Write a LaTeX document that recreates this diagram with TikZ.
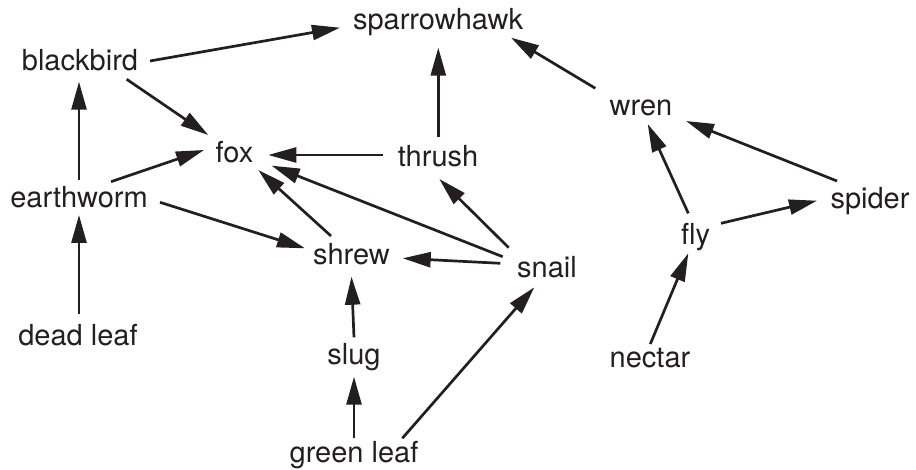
\documentclass[tikz,border=0pt]{standalone}
\usepackage{fontspec}
\setmainfont{TeX Gyre Heros}
\usetikzlibrary{arrows.meta}
\definecolor{ink}{HTML}{231F20}
\begin{document}
\begin{tikzpicture}[x=1pt,y=-1pt,
  lbl/.style={anchor=base,inner sep=0pt,text=ink,font=\fontsize{29}{32}\selectfont},
  feeds/.style={draw=ink,line width=2.7pt,
    -{Triangle[length=28pt,width=15pt]},fill=ink}]
\useasboundingbox (0,0) rectangle (916,470);

% organisms (placed by their text baseline)
\node[lbl] (sparrowhawk) at (438,30)   {sparrowhawk};
\node[lbl] (blackbird)   at (80,71)    {blackbird};
\node[lbl] (wren)        at (641,116)  {wren};
\node[lbl] (fox)         at (234.5,163){fox};
\node[lbl] (thrush)      at (438,167)  {thrush};
\node[lbl] (earthworm)   at (79,208)   {earthworm};
\node[lbl] (spider)      at (870,209)  {spider};
\node[lbl] (fly)         at (695.5,245){fly};
\node[lbl] (shrew)       at (351.5,265){shrew};
\node[lbl] (snail)       at (547,278)  {snail};
\node[lbl] (deadleaf)    at (78,345)   {dead leaf};
\node[lbl] (slug)        at (354,365)  {slug};
\node[lbl] (nectar)      at (650,367)  {nectar};
\node[lbl] (greenleaf)   at (354,462)  {green leaf};

% who is eaten by whom
\draw[feeds] ([shift={(70,-10)}]blackbird.base) -- ([shift={(-98,-2.3)}]sparrowhawk.base);
\draw[feeds] ([shift={(0.3,-30.3)}]thrush.base) -- ([shift={(0.3,17.7)}]sparrowhawk.base);
\draw[feeds] ([shift={(-45.7,-27.7)}]wren.base) -- ([shift={(73,7.7)}]sparrowhawk.base);
\draw[feeds] ([shift={(46.7,8.3)}]blackbird.base) -- ([shift={(-26.2,-28)}]fox.base);
\draw[feeds] ([shift={(0,-28)}]earthworm.base) -- ([shift={(-1,10.7)}]blackbird.base);
\draw[feeds] ([shift={(32,-26.3)}]earthworm.base) -- ([shift={(-30.5,-13)}]fox.base);
\draw[feeds] ([shift={(-54.7,-12)}]thrush.base) -- ([shift={(33.8,-8)}]fox.base);
\draw[feeds] ([shift={(-20.5,-29)}]shrew.base) -- ([shift={(23.8,7)}]fox.base);
\draw[feeds] ([shift={(-44.3,-21.3)}]snail.base) -- ([shift={(37.2,2.7)}]fox.base);
\draw[feeds] ([shift={(81,-5.7)}]earthworm.base) -- ([shift={(-46.5,-16.7)}]shrew.base);
\draw[feeds] ([shift={(-38.3,-30.3)}]snail.base) -- ([shift={(1.3,12)}]thrush.base);
\draw[feeds] ([shift={(-46.7,-14.7)}]snail.base) -- ([shift={(51.2,-6.7)}]shrew.base);
\draw[feeds] ([shift={(1,-31)}]deadleaf.base) -- ([shift={(0,7)}]earthworm.base);
\draw[feeds] ([shift={(0,-27.7)}]slug.base) -- ([shift={(0,11.7)}]shrew.base);
\draw[feeds] ([shift={(0,-23.7)}]greenleaf.base) -- ([shift={(0,11.7)}]slug.base);
\draw[feeds] ([shift={(48.3,-23.7)}]greenleaf.base) -- ([shift={(-12.7,9.3)}]snail.base);
\draw[feeds] ([shift={(-7.2,-31.7)}]fly.base) -- ([shift={(6.7,8)}]wren.base);
\draw[feeds] ([shift={(25.5,-21.7)}]fly.base) -- ([shift={(-53,-8.3)}]spider.base);
\draw[feeds] ([shift={(-33,-28)}]spider.base) -- ([shift={(45,5)}]wren.base);
\draw[feeds] ([shift={(0.3,-23)}]nectar.base) -- ([shift={(-7.2,8.3)}]fly.base);
\end{tikzpicture}
\end{document}
